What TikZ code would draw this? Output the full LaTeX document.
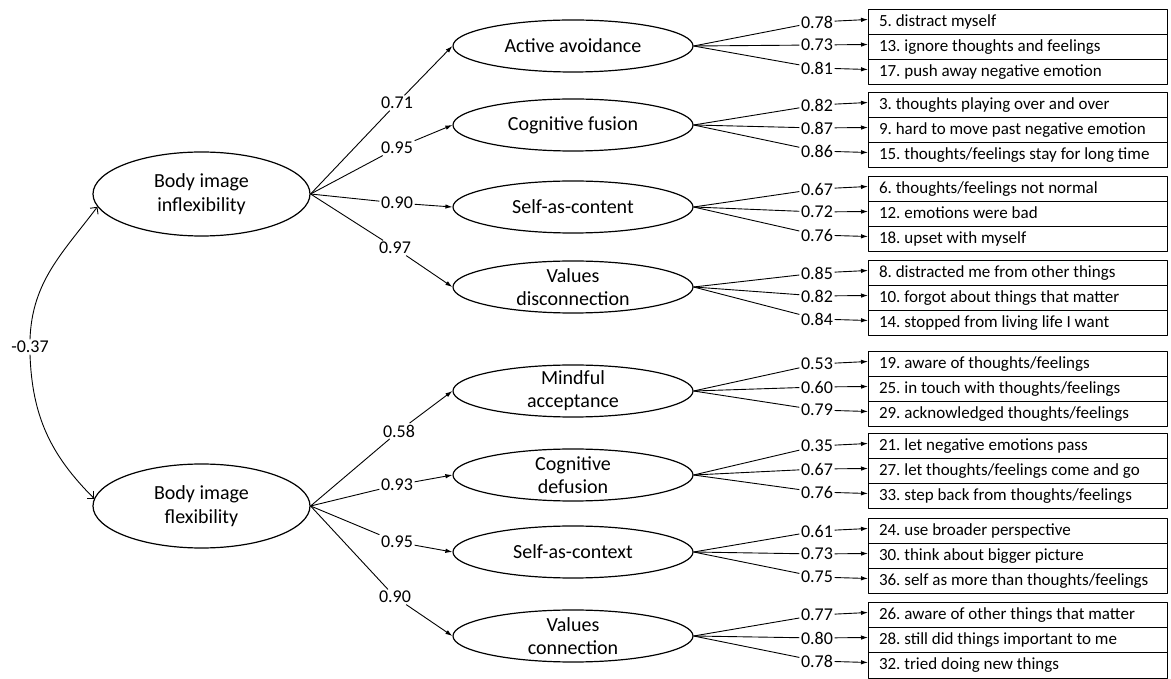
\documentclass[tikz,border=0pt]{standalone}
\usepackage{fontspec}
\setmainfont{Carlito}
\frenchspacing
\usetikzlibrary{arrows.meta,positioning,shapes.geometric}
\begin{document}
\begin{tikzpicture}[x=1pt, y=1pt, line join=round, >={Latex[length=7pt,width=4.5pt]},
	big/.style={draw, ellipse, line width=1.2pt, minimum width=217pt, minimum height=84pt, inner sep=0pt, align=center, font=\fontsize{20}{24}\selectfont},
	fac/.style={draw, ellipse, line width=1.2pt, minimum width=240pt, minimum height=52pt, inner sep=0pt},
	facname/.style={align=center, font=\fontsize{20}{23}\selectfont},
	item/.style={draw, line width=1pt, text width=277pt, inner xsep=11pt, inner ysep=0pt, outer sep=0pt, minimum height=25pt, text height=13pt, text depth=4.5pt, align=flush left, font=\fontsize{17}{20}\selectfont},
	coef/.style={inner sep=1.5pt, font=\fontsize{18}{20}\selectfont},
	ln/.style={line width=0.9pt},
	corr/.style={line width=0.9pt, -{Straight Barb[length=5pt,width=10pt]}}]
	\useasboundingbox (0,0) rectangle (1171,678);
	\node[big] (bif) at (201.5,484) {Body image\\inflexibility};
	\node[big] (bf) at (201.5,172) {Body image\\flexibility};
	\node[coef] (r) at (30,331) {-0.37};
	\draw[corr] (r.north) to[out=88, in=233] (bif.187);
	\draw[corr] (r.south) to[out=-88, in=135] (bf.176);
	\node[fac, label={[facname]center:Active avoidance}] (aa) at (573,632) {};
	\node[fac, label={[facname]center:Cognitive fusion}] (cf) at (573,553) {};
	\node[fac, label={[facname]center:Self-as-content}] (sc) at (573,471) {};
	\node[fac, label={[facname]center:Values\\disconnection}] (vd) at (573,391) {};
	\node[fac, label={[facname]center:Mindful\\acceptance}] (ma) at (573,287) {};
	\node[fac, label={[facname]center:Cognitive\\defusion}] (cd) at (573,203) {};
	\node[fac, label={[facname]center:Self-as-context}] (sx) at (573,126) {};
	\node[fac, label={[facname]center:Values\\connection}] (vc) at (573,42) {};
	\node[coef] (k1) at (397,575) {0.71};
	\node[coef] (k2) at (397,530) {0.95};
	\node[coef] (k3) at (397,475) {0.90};
	\node[coef] (k4) at (395,430) {0.97};
	\node[coef] (k5) at (399,247) {0.58};
	\node[coef] (k6) at (397,193) {0.93};
	\node[coef] (k7) at (397,136) {0.95};
	\node[coef] (k8) at (395,81) {0.90};
	\draw[ln] (bif.east) -- (k1) edge[->] (aa.west);
	\draw[ln] (bif.east) -- (k2) edge[->] (cf.west);
	\draw[ln] (bif.east) -- (k3) edge[->] (sc.west);
	\draw[ln] (bif.east) -- (k4) edge[->] (vd.west);
	\draw[ln] (bf.east) -- (k5) edge[->] (ma.west);
	\draw[ln] (bf.east) -- (k6) edge[->] (cd.west);
	\draw[ln] (bf.east) -- (k7) edge[->] (sx.west);
	\draw[ln] (bf.east) -- (k8) edge[->] (vc.west);
	\node[item] (i5) at (1017.5,655.5) {5. distract myself};
	\node[item, below=0pt of i5] (i13) {13. ignore thoughts and feelings};
	\node[item, below=0pt of i13] (i17) {17. push away negative emotion};
	\node[item] (i3) at (1017.5,572.5) {3. thoughts playing over and over};
	\node[item, below=0pt of i3] (i9) {9. hard to move past negative emotion};
	\node[item, below=0pt of i9] (i15) {15. thoughts/feelings stay for long time};
	\node[item] (i6) at (1017.5,488.5) {6. thoughts/feelings not normal};
	\node[item, below=0pt of i6] (i12) {12. emotions were bad};
	\node[item, below=0pt of i12] (i18) {18. upset with myself};
	\node[item] (i8) at (1017.5,404.5) {8. distracted me from other things};
	\node[item, below=0pt of i8] (i10) {10. forgot about things that matter};
	\node[item, below=0pt of i10] (i14) {14. stopped from living life I want};
	\node[item] (i19) at (1017.5,313.5) {19. aware of thoughts/feelings};
	\node[item, below=0pt of i19] (i25) {25. in touch with thoughts/feelings};
	\node[item, below=0pt of i25] (i29) {29. acknowledged thoughts/feelings};
	\node[item] (i21) at (1017.5,231.5) {21. let negative emotions pass};
	\node[item, below=0pt of i21] (i27) {27. let thoughts/feelings come and go};
	\node[item, below=0pt of i27] (i33) {33. step back from thoughts/feelings};
	\node[item] (i24) at (1017.5,146.5) {24. use broader perspective};
	\node[item, below=0pt of i24] (i30) {30. think about bigger picture};
	\node[item, below=0pt of i30] (i36) {36. self as more than thoughts/feelings};
	\node[item] (i26) at (1017.5,62.5) {26. aware of other things that matter};
	\node[item, below=0pt of i26] (i28) {28. still did things important to me};
	\node[item, below=0pt of i28] (i32) {32. tried doing new things};
	\node[coef] (l5) at (817,656) {0.78};
	\node[coef] (l13) at (817,633) {0.73};
	\node[coef] (l17) at (817,610) {0.81};
	\node[coef] (l3) at (817,573) {0.82};
	\node[coef] (l9) at (817,550) {0.87};
	\node[coef] (l15) at (817,527) {0.86};
	\node[coef] (l6) at (817,489) {0.67};
	\node[coef] (l12) at (817,466) {0.72};
	\node[coef] (l18) at (817,443) {0.76};
	\node[coef] (l8) at (817,405) {0.85};
	\node[coef] (l10) at (817,382) {0.82};
	\node[coef] (l14) at (817,359) {0.84};
	\node[coef] (l19) at (817,314) {0.53};
	\node[coef] (l25) at (817,291) {0.60};
	\node[coef] (l29) at (817,268) {0.79};
	\node[coef] (l21) at (817,232) {0.35};
	\node[coef] (l27) at (817,209) {0.67};
	\node[coef] (l33) at (817,186) {0.76};
	\node[coef] (l24) at (817,147) {0.61};
	\node[coef] (l30) at (817,124) {0.73};
	\node[coef] (l36) at (817,101) {0.75};
	\node[coef] (l26) at (817,63) {0.77};
	\node[coef] (l28) at (817,40) {0.80};
	\node[coef] (l32) at (817,17) {0.78};
	\draw[ln] (aa.east) -- (l5) edge[->] ([yshift=3pt]i5.west);
	\draw[ln] (aa.east) -- (l13) edge[->] ([yshift=3pt]i13.west);
	\draw[ln] (aa.east) -- (l17) edge[->] ([yshift=3pt]i17.west);
	\draw[ln] (cf.east) -- (l3) edge[->] ([yshift=3pt]i3.west);
	\draw[ln] (cf.east) -- (l9) edge[->] ([yshift=3pt]i9.west);
	\draw[ln] (cf.east) -- (l15) edge[->] ([yshift=3pt]i15.west);
	\draw[ln] (sc.east) -- (l6) edge[->] ([yshift=3pt]i6.west);
	\draw[ln] (sc.east) -- (l12) edge[->] ([yshift=3pt]i12.west);
	\draw[ln] (sc.east) -- (l18) edge[->] ([yshift=3pt]i18.west);
	\draw[ln] (vd.east) -- (l8) edge[->] ([yshift=3pt]i8.west);
	\draw[ln] (vd.east) -- (l10) edge[->] ([yshift=3pt]i10.west);
	\draw[ln] (vd.east) -- (l14) edge[->] ([yshift=3pt]i14.west);
	\draw[ln] (ma.east) -- (l19) edge[->] ([yshift=3pt]i19.west);
	\draw[ln] (ma.east) -- (l25) edge[->] ([yshift=3pt]i25.west);
	\draw[ln] (ma.east) -- (l29) edge[->] ([yshift=3pt]i29.west);
	\draw[ln] (cd.east) -- (l21) edge[->] ([yshift=3pt]i21.west);
	\draw[ln] (cd.east) -- (l27) edge[->] ([yshift=3pt]i27.west);
	\draw[ln] (cd.east) -- (l33) edge[->] ([yshift=3pt]i33.west);
	\draw[ln] (sx.east) -- (l24) edge[->] ([yshift=3pt]i24.west);
	\draw[ln] (sx.east) -- (l30) edge[->] ([yshift=3pt]i30.west);
	\draw[ln] (sx.east) -- (l36) edge[->] ([yshift=3pt]i36.west);
	\draw[ln] (vc.east) -- (l26) edge[->] ([yshift=3pt]i26.west);
	\draw[ln] (vc.east) -- (l28) edge[->] ([yshift=3pt]i28.west);
	\draw[ln] (vc.east) -- (l32) edge[->] ([yshift=3pt]i32.west);
\end{tikzpicture}
\end{document}
